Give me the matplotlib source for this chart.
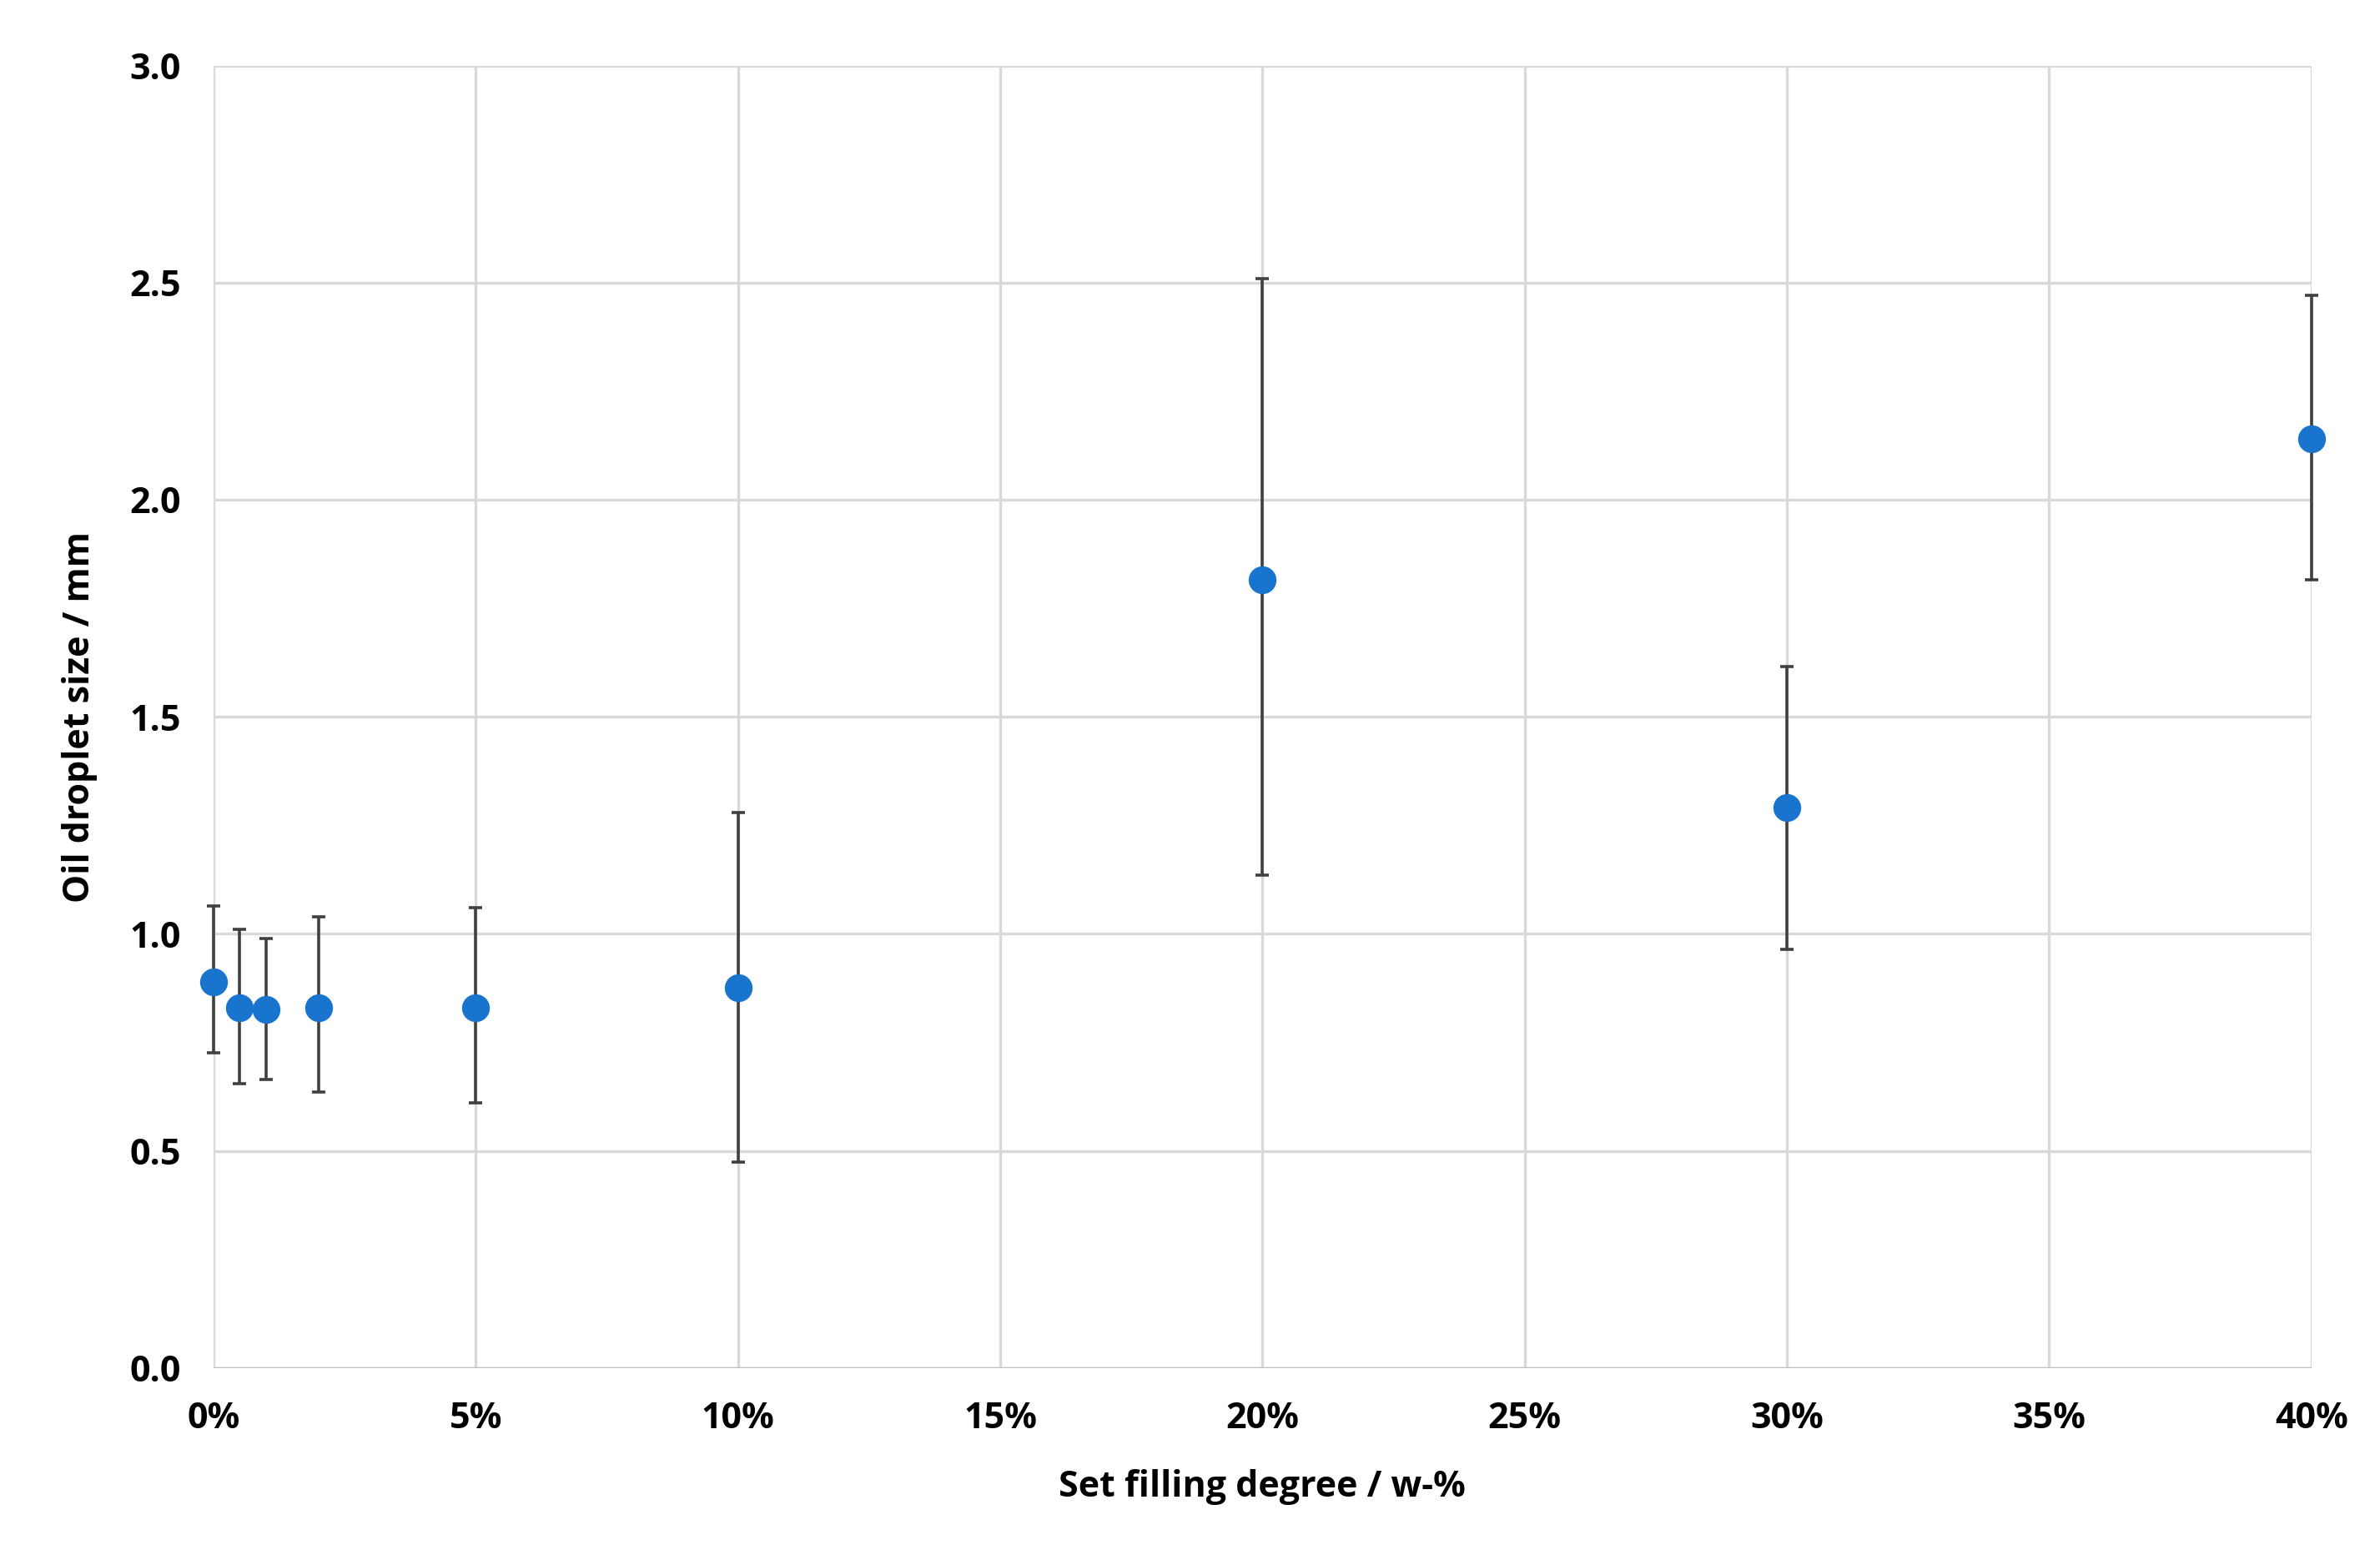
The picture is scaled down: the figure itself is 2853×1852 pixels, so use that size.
import matplotlib
matplotlib.use("Agg")
import matplotlib.pyplot as plt
from matplotlib.ticker import FuncFormatter, MultipleLocator

x_pct = [0, 0.5, 1, 2, 5, 10, 20, 30, 40]
size_mm = [0.89, 0.83, 0.825, 0.83, 0.83, 0.875, 1.815, 1.29, 2.14]
err_top = [1.065, 1.01, 0.99, 1.04, 1.06, 1.28, 2.51, 1.615, 2.47]
err_bottom = [0.725, 0.655, 0.665, 0.635, 0.61, 0.475, 1.135, 0.965, 1.815]

plt.rcParams['font.family'] = ['Open Sans', 'DejaVu Sans']
fig = plt.figure(figsize=(14.265, 9.26), dpi=200)
ax = fig.add_axes([0.0897, 0.1146, 0.8815, 0.843])

lo = [y - b for y, b in zip(size_mm, err_bottom)]
hi = [t - y for y, t in zip(size_mm, err_top)]
cont = ax.errorbar(x_pct, size_mm, yerr=[lo, hi], fmt='o', color='#1874CD', markersize=11,
                   ecolor='#404040', elinewidth=1.3, capsize=3, capthick=1.3, zorder=3)
for art in [cont[0], *cont[1], *cont[2]]:
    art.set_clip_on(False)

ax.set_xlim(0, 40)
ax.set_ylim(0, 3.0)
ax.xaxis.set_major_locator(MultipleLocator(5))
ax.yaxis.set_major_locator(MultipleLocator(0.5))
ax.xaxis.set_major_formatter(FuncFormatter(lambda v, p: f"{v:.0f}%"))
ax.yaxis.set_major_formatter(FuncFormatter(lambda v, p: f"{v:.1f}"))
ax.grid(True, color='#D9D9D9', linewidth=1.2)
ax.set_axisbelow(True)
for s in ax.spines.values():
    s.set_visible(False)
ax.axhline(0, color='#BFBFBF', linewidth=1.2, zorder=1)
ax.tick_params(length=0, labelsize=15.5, pad=14)
for lbl in ax.get_xticklabels() + ax.get_yticklabels():
    lbl.set_fontweight('bold')
ax.set_xlabel('Set filling degree / w-%', fontsize=15.5, fontweight='bold', labelpad=14)
ax.set_ylabel('Oil droplet size / mm', fontsize=15.5, fontweight='bold', labelpad=14)

fig.savefig('out.png', dpi=200)
